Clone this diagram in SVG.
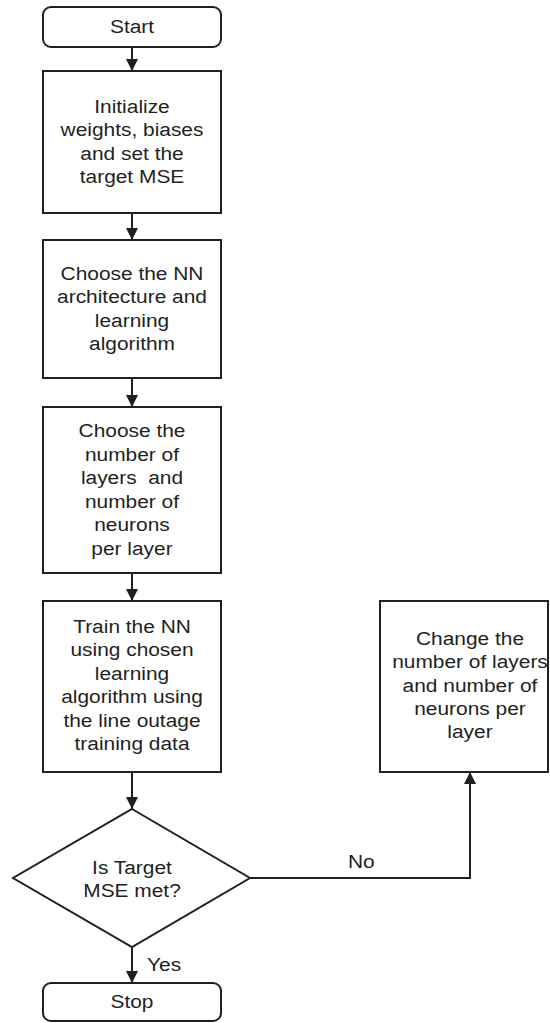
<svg xmlns="http://www.w3.org/2000/svg" width="550" height="1023" viewBox="0 0 550 1023">
<style>
.box{fill:#fff;stroke:#231f20;stroke-width:2}
.t{font-family:"Liberation Sans",Arial,sans-serif;font-size:19px;fill:#231f20;text-anchor:middle;white-space:pre}
.l{font-family:"Liberation Sans",Arial,sans-serif;font-size:19px;fill:#231f20}
.c{fill:none;stroke:#231f20;stroke-width:2}
</style>
<defs>
<marker id="ah" viewBox="0 0 12 12" refX="12" refY="6" markerWidth="12" markerHeight="12" markerUnits="userSpaceOnUse" orient="auto">
<path d="M0,0 L12,6 L0,12 z" fill="#231f20"/>
</marker>
</defs>
<rect width="550" height="1023" fill="#fff"/>
<g id="connectors">
<line class="c" x1="132" y1="47" x2="132" y2="71" marker-end="url(#ah)"/>
<line class="c" x1="132" y1="213" x2="132" y2="240" marker-end="url(#ah)"/>
<line class="c" x1="132" y1="378" x2="132" y2="407" marker-end="url(#ah)"/>
<line class="c" x1="132" y1="573" x2="132" y2="601" marker-end="url(#ah)"/>
<line class="c" x1="132" y1="772" x2="132" y2="809" marker-end="url(#ah)"/>
<line class="c" x1="132" y1="947" x2="132" y2="983" marker-end="url(#ah)"/>
<path class="c" d="M250,878 H470 V772" marker-end="url(#ah)"/>
<g transform="translate(147 0) scale(1.1 1)"><text class="l" x="0" y="971">Yes</text></g>
<g transform="translate(348 0) scale(1.1 1)"><text class="l" x="0" y="868">No</text></g>
</g>
<g id="start">
<rect class="box" x="43" y="7" width="178" height="40" rx="8"/>
<g transform="translate(132 0) scale(1.1 1)"><text class="t" x="0" y="33">Start</text></g>
</g>
<g id="init">
<rect class="box" x="43" y="71" width="178" height="142"/>
<g transform="translate(132 0) scale(1.1 1)">
<text class="t" x="0" y="113">Initialize</text>
<text class="t" x="0" y="136.5">weights, biases</text>
<text class="t" x="0" y="160">and set the</text>
<text class="t" x="0" y="183.5">target MSE</text>
</g>
</g>
<g id="arch">
<rect class="box" x="43" y="240" width="178" height="138"/>
<g transform="translate(132 0) scale(1.1 1)">
<text class="t" x="0" y="280">Choose the NN</text>
<text class="t" x="0" y="303.3">architecture and</text>
<text class="t" x="0" y="326.6">learning</text>
<text class="t" x="0" y="350">algorithm</text>
</g>
</g>
<g id="layers">
<rect class="box" x="43" y="407" width="178" height="166"/>
<g transform="translate(132 0) scale(1.1 1)">
<text class="t" x="0" y="437">Choose the</text>
<text class="t" x="0" y="460.6">number of</text>
<text class="t" x="0" y="484.2" xml:space="preserve">layers  and</text>
<text class="t" x="0" y="507.8">number of</text>
<text class="t" x="0" y="531.4">neurons</text>
<text class="t" x="0" y="555">per layer</text>
</g>
</g>
<g id="train">
<rect class="box" x="43" y="601" width="178" height="171"/>
<g transform="translate(132 0) scale(1.1 1)">
<text class="t" x="0" y="633">Train the NN</text>
<text class="t" x="0" y="656.4">using chosen</text>
<text class="t" x="0" y="679.8">learning</text>
<text class="t" x="0" y="703.2">algorithm using</text>
<text class="t" x="0" y="726.6">the line outage</text>
<text class="t" x="0" y="750">training data</text>
</g>
</g>
<g id="change">
<rect class="box" x="380" y="601" width="168" height="171"/>
<g transform="translate(470 0) scale(1.1 1)">
<text class="t" x="0" y="645">Change the</text>
<text class="t" x="0" y="668.3">number of layers</text>
<text class="t" x="0" y="691.6">and number of</text>
<text class="t" x="0" y="715">neurons per</text>
<text class="t" x="0" y="738.3">layer</text>
</g>
</g>
<g id="decision">
<polygon class="box" points="132,809 250,878 132,947 13,878"/>
<g transform="translate(132 0) scale(1.1 1)">
<text class="t" x="0" y="874">Is Target</text>
<text class="t" x="0" y="897">MSE met?</text>
</g>
</g>
<g id="stop">
<rect class="box" x="43" y="983" width="178" height="38" rx="8"/>
<g transform="translate(132 0) scale(1.1 1)"><text class="t" x="0" y="1008">Stop</text></g>
</g>
</svg>
